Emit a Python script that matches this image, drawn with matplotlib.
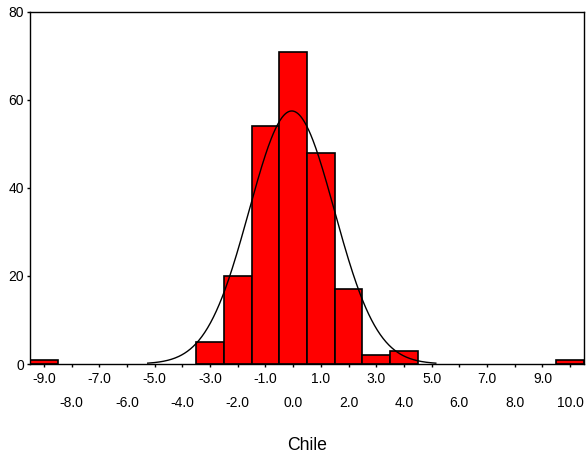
import numpy as np
import matplotlib
matplotlib.use("Agg")
import matplotlib.pyplot as plt

plt.rcParams['font.family'] = ['Liberation Sans', 'DejaVu Sans']

# histogram bins (centres) and counts
bin_centers = [-9, -3, -2, -1, 0, 1, 2, 3, 4, 10]
counts = [1, 5, 20, 54, 71, 48, 17, 2, 3, 1]

# fitted normal curve parameters
fit_mean = -0.05
fit_sd = 1.54
fit_n = sum(counts)

odd_ticks = [-9, -7, -5, -3, -1, 1, 3, 5, 7, 9]
even_ticks = [-8, -6, -4, -2, 0, 2, 4, 6, 8, 10]
y_ticks = [0, 20, 40, 60, 80]

fig = plt.figure(figsize=(5.87, 4.57), dpi=100)
ax = fig.add_axes([30/587, 1 - 364/457, 554/587, 352/457])

ax.bar(bin_centers, counts, width=1.0, color='#ff0000',
       edgecolor='black', linewidth=1.2, zorder=2)

xs = np.linspace(fit_mean - 5.2, fit_mean + 5.2, 400)
ys = fit_n / (fit_sd * np.sqrt(2 * np.pi)) * np.exp(-0.5 * ((xs - fit_mean) / fit_sd) ** 2)
ax.plot(xs, ys, color='black', linewidth=1.0, zorder=3)

ax.set_xlim(-9.5, 10.5)
ax.set_ylim(0, 80)

ax.set_xticks(odd_ticks, labels=["%.1f" % v for v in odd_ticks])
ax.set_xticks(even_ticks, labels=["%.1f" % v for v in even_ticks], minor=True)
ax.tick_params(axis='x', which='major', length=2.5, width=1, pad=3.6, labelsize=10)
ax.tick_params(axis='x', which='minor', length=2.5, width=1, pad=20.2, labelsize=10)

ax.set_yticks(y_ticks)
ax.tick_params(axis='y', length=2.2, width=1, pad=2, labelsize=10)

for s in ax.spines.values():
    s.set_linewidth(1.0)

ax.set_xlabel("Chile", fontsize=12.7, labelpad=19.5)

fig.savefig("out.png", dpi=100)
